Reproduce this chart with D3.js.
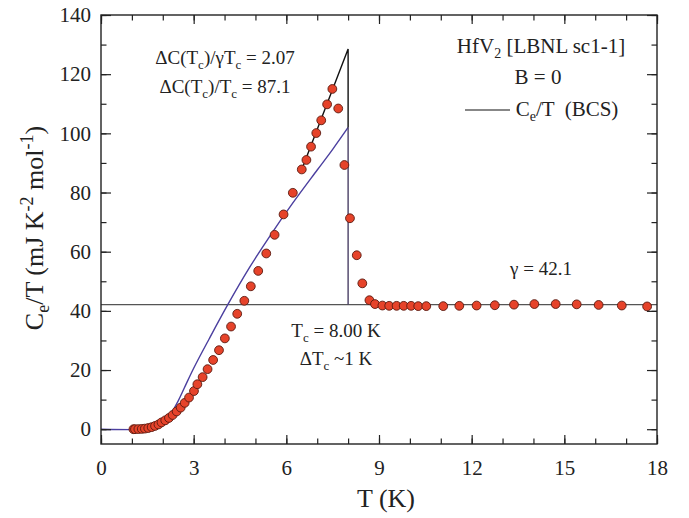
<!DOCTYPE html>
<html>
<head>
<meta charset="utf-8">
<script src="https://cdn.jsdelivr.net/npm/d3@7"></script>
<style>
  body { margin: 0; background: #fff; }
  text { font-family: "Liberation Serif", "DejaVu Serif", serif; fill: #222; white-space: pre; }
</style>
</head>
<body>
<div id="chart"></div>
<script>
// measured C/T points (T in K, C/T in mJ K^-2 mol^-1)
var tempK = [1.05, 1.10, 1.21, 1.32, 1.42, 1.53, 1.64, 1.75, 1.86, 1.96, 2.08, 2.20, 2.32, 2.45, 2.58, 2.71, 2.85, 3.01, 3.12, 3.29,
             3.45, 3.63, 3.82, 4.01, 4.21, 4.41, 4.64, 4.85, 5.09, 5.35, 5.62, 5.91, 6.21, 6.50, 6.65, 6.80, 6.97, 7.13, 7.32, 7.49,
             7.68, 7.88, 8.06, 8.28, 8.46, 8.69, 8.87, 9.11, 9.33, 9.57, 9.80, 10.04, 10.27, 10.53, 11.08, 11.60, 12.16, 12.75, 13.37,
             14.03, 14.72, 15.40, 16.11, 16.86, 17.68];
var ceOverT = [0, 0, 0.05, 0.1, 0.2, 0.4, 0.7, 1.1, 1.6, 2.3, 3.0, 3.8, 4.8, 6.0, 7.3, 8.9, 10.7, 12.9, 15.2, 17.6,
               20.3, 23.4, 26.7, 30.7, 34.7, 39.0, 43.4, 48.3, 53.5, 59.4, 65.7, 72.6, 79.9, 87.8, 91.0, 95.5, 100.1, 104.4, 109.8, 115.0,
               108.4, 89.3, 71.3, 58.8, 49.3, 43.6, 42.3, 41.8, 41.7, 41.7, 41.7, 41.7, 41.6, 41.6, 41.6, 41.7, 41.8, 41.9, 42.1,
               42.3, 42.3, 42.2, 42.0, 41.8, 41.5];

// BCS curve
var bcsT = [0, 1.5, 1.7, 1.9, 2.1, 2.3, 2.5, 2.7, 3.0, 3.5, 4.1, 4.8, 5.5, 6.2, 7.0, 7.5, 8.0];
var bcsC = [0, 0, 0.4, 1.3, 3.1, 5.9, 9.6, 14.0, 20.6, 30.5, 42.0, 54.5, 65.8, 76.3, 87.6, 94.6, 102.0];

// entropy-conserving jump construction
var jumpT = [6.5, 8.0, 8.0];
var jumpC = [87.8, 128.5, 102.0];

var gamma = 42.1;

var xTicks = [0, 3, 6, 9, 12, 15, 18];
var xMinor = d3.range(0, 19, 1);
var yTicks = [0, 20, 40, 60, 80, 100, 120, 140];
var yMinor = d3.range(0, 141, 10);

var w = 689, h = 518;
var pLeft = 101, pRight = 657, pTop = 15, pBottom = 444;

var svg = d3.select("#chart").append("svg")
    .attr("width", w)
    .attr("height", h);

var x = d3.scaleLinear().domain([0, 18]).range([pLeft, pRight]);
var y = d3.scaleLinear().domain([-5, 140]).range([pBottom, pTop]);

var line = d3.line()
    .x(function(d) { return x(d[0]); })
    .y(function(d) { return y(d[1]); });

// gamma line
svg.append("path")
    .attr("d", line([[0, gamma], [18, gamma]]))
    .attr("fill", "none")
    .attr("stroke", "#555")
    .attr("stroke-width", 1.2);

// BCS curve, then its drop at Tc
var bcsPts = bcsT.map(function(t, i) { return [t, bcsC[i]]; });
svg.append("path")
    .attr("d", d3.line()
        .x(function(d) { return x(d[0]); })
        .y(function(d) { return y(d[1]); })
        .curve(d3.curveCatmullRom)(bcsPts))
    .attr("fill", "none")
    .attr("stroke", "#4b3f9f")
    .attr("stroke-width", 1.4);
svg.append("path")
    .attr("d", line([bcsPts[bcsPts.length - 1], [8.0, gamma]]))
    .attr("fill", "none")
    .attr("stroke", "#4a4065")
    .attr("stroke-width", 1.4);

// jump line
svg.append("path")
    .attr("d", line(jumpT.map(function(t, i) { return [t, jumpC[i]]; })))
    .attr("fill", "none")
    .attr("stroke", "#111")
    .attr("stroke-width", 1.4);

// data points
svg.selectAll("circle")
    .data(tempK.map(function(t, i) { return [t, ceOverT[i]]; }))
    .enter()
    .append("circle")
    .attr("cx", function(d) { return x(d[0]); })
    .attr("cy", function(d) { return y(d[1]); })
    .attr("r", 4.4)
    .attr("fill", "#e6432a")
    .attr("stroke", "#5a1a10")
    .attr("stroke-width", 0.9);

// axes, ticks inward
function axisStyle(g) {
    g.select(".domain").remove();
    g.selectAll("line").attr("stroke", "#222").attr("stroke-width", 1.2);
    g.selectAll("text").style("font-family", "'Liberation Serif', serif").style("font-size", "21px").attr("fill", "#222");
}

svg.append("g").attr("transform", "translate(0," + pBottom + ")")
    .call(d3.axisBottom(x).tickValues(xMinor).tickSize(-5.5).tickFormat(""))
    .call(axisStyle);
svg.append("g").attr("transform", "translate(0," + pBottom + ")")
    .call(d3.axisBottom(x).tickValues(xTicks).tickSize(-9).tickPadding(16).tickFormat(d3.format("d")))
    .call(axisStyle);
svg.append("g").attr("transform", "translate(0," + pTop + ")")
    .call(d3.axisTop(x).tickValues(xMinor).tickSize(-5.5).tickFormat(""))
    .call(axisStyle);
svg.append("g").attr("transform", "translate(0," + pTop + ")")
    .call(d3.axisTop(x).tickValues(xTicks).tickSize(-9).tickFormat(""))
    .call(axisStyle);
svg.append("g").attr("transform", "translate(" + pLeft + ",0)")
    .call(d3.axisLeft(y).tickValues(yMinor).tickSize(-5.5).tickFormat(""))
    .call(axisStyle);
svg.append("g").attr("class", "yleft").attr("transform", "translate(" + pLeft + ",0)")
    .call(d3.axisLeft(y).tickValues(yTicks).tickSize(-10).tickFormat(d3.format("d")))
    .call(axisStyle);
svg.append("g").attr("transform", "translate(" + pRight + ",0)")
    .call(d3.axisRight(y).tickValues(yMinor).tickSize(-5.5).tickFormat(""))
    .call(axisStyle);
svg.append("g").attr("transform", "translate(" + pRight + ",0)")
    .call(d3.axisRight(y).tickValues(yTicks).tickSize(-10).tickFormat(""))
    .call(axisStyle);

// left labels sit ~10px left of the axis
svg.select(".yleft").selectAll("text").attr("x", -10);

// frame
svg.append("rect")
    .attr("x", pLeft).attr("y", pTop)
    .attr("width", pRight - pLeft).attr("height", pBottom - pTop)
    .attr("fill", "none")
    .attr("stroke", "#222")
    .attr("stroke-width", 1.4);

// axis titles
svg.append("text")
    .attr("x", 386).attr("y", 507)
    .attr("text-anchor", "middle")
    .style("font-size", "26px")
    .text("T (K)");

var yt = svg.append("text")
    .attr("transform", "translate(43,228) rotate(-90)")
    .attr("text-anchor", "middle")
    .style("font-size", "26px");
yt.append("tspan").text("C");
yt.append("tspan").attr("dy", 6).style("font-size", "18px").text("e");
yt.append("tspan").attr("dy", -6).text("/T (mJ K");
yt.append("tspan").attr("dy", -10).style("font-size", "18px").text("-2");
yt.append("tspan").attr("dy", 10).text(" mol");
yt.append("tspan").attr("dy", -10).style("font-size", "18px").text("-1");
yt.append("tspan").attr("dy", 10).text(")");

// annotations
function subText(px, py, parts, size) {
    var t = svg.append("text")
        .attr("x", px).attr("y", py)
        .attr("text-anchor", "middle")
        .style("font-size", size + "px");
    var shift = 0;
    parts.forEach(function(p) {
        var s = t.append("tspan").text(p[0]);
        var want = p[1] == "sub" ? 5 : (p[1] == "sup" ? -8 : 0);
        if (want != shift) s.attr("dy", want - shift);
        if (p[1]) s.style("font-size", Math.round(size * 0.68) + "px");
        shift = want;
    });
    return t;
}

subText(225, 64, [["\u0394C(T"], ["c", "sub"], [")/\u03b3T"], ["c", "sub"], [" = 2.07"]], 19);
subText(225, 93, [["\u0394C(T"], ["c", "sub"], [")/T"], ["c", "sub"], [" = 87.1"]], 19);

subText(541, 53, [["HfV"], ["2", "sub"], [" [LBNL sc1-1]"]], 21);
subText(538, 84, [["B = 0"]], 21);
svg.append("line")
    .attr("x1", 465).attr("x2", 510).attr("y1", 110).attr("y2", 110)
    .attr("stroke", "#111").attr("stroke-width", 1.2);
subText(567, 116, [["C"], ["e", "sub"], ["/T  (BCS)"]], 21);

subText(541, 275, [["\u03b3 = 42.1"]], 19);
subText(336, 337, [["T"], ["c", "sub"], [" = 8.00 K"]], 19);
subText(336, 365, [["\u0394T"], ["c", "sub"], [" ~1 K"]], 19);
</script>
</body>
</html>
